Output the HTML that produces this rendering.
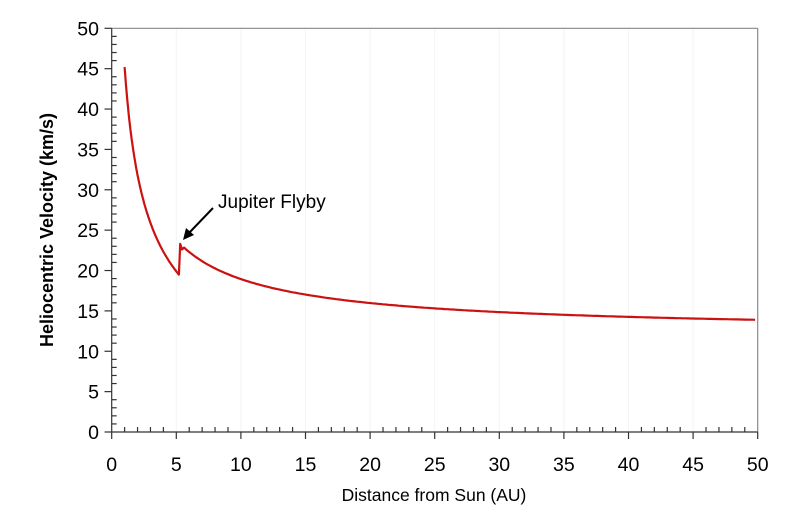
<!DOCTYPE html>
<html><head><style>body{margin:0;background:#fff}svg{display:block}</style></head><body>
<svg id="s" width="805" height="527" xmlns="http://www.w3.org/2000/svg" font-family="Liberation Sans, Arial, sans-serif">
<g id="grid" stroke="#f4f4f4" stroke-width="1"></g>
<line x1="111.7" y1="28.3" x2="757.7" y2="28.3" stroke="#888" stroke-width="1.2"/>
<line x1="757.7" y1="28.3" x2="757.7" y2="432" stroke="#888" stroke-width="1.2"/>
<g id="ax" stroke="#333" stroke-width="1.2"></g>
<g id="lab" font-size="19.5" fill="#000"></g>
<polyline id="c" fill="none" stroke="#cc1111" stroke-width="2.2" stroke-linejoin="round"/>
<text x="218" y="208" font-size="19">Jupiter Flyby</text>
<line x1="213" y1="208" x2="189" y2="233" stroke="#000" stroke-width="2"/>
<polygon points="183,240 186,228 194,235" fill="#000"/>
<text x="434" y="501" font-size="17.5" text-anchor="middle">Distance from Sun (AU)</text>
<text transform="translate(53,230) rotate(-90)" font-size="18" font-weight="bold" text-anchor="middle">Heliocentric Velocity (km/s)</text>
</svg>
<script>
const X=v=>111.7+v*12.92,Y=v=>432-v*8.074;
let ax='',lab='',gr='';
for(let i=0;i<=50;i++){
 if(i%5==0){ax+=`<line x1="${X(i)}" y1="432" x2="${X(i)}" y2="439"/><line x1="104.5" y1="${Y(i)}" x2="111.7" y2="${Y(i)}"/>`;
  lab+=`<text x="${X(i)}" y="471" text-anchor="middle">${i}</text><text x="99" y="${Y(i)+7}" text-anchor="end">${i}</text>`;
  if(i>0&&i<50)gr+=`<line x1="${X(i)}" y1="28.3" x2="${X(i)}" y2="432"/>`;}
 else ax+=`<line x1="${X(i)}" y1="432" x2="${X(i)}" y2="427"/><line x1="111.7" y1="${Y(i)}" x2="116.7" y2="${Y(i)}"/>`;
}
ax+=`<line x1="111.7" y1="28.3" x2="111.7" y2="432"/><line x1="111.7" y1="432" x2="757.7" y2="432"/>`;
document.getElementById('ax').innerHTML=ax;document.getElementById('lab').innerHTML=lab;document.getElementById('grid').innerHTML=gr;
let p=[];
for(let r=1;r<=5.2;r+=0.05)p.push([r,Math.sqrt(-16+2059/r)]);
p.push([5.2,19.5]);p.push([5.3,23.3]);p.push([5.45,22.6]);
for(let r=5.6;r<=50;r+=0.2)p.push([r,Math.sqrt(151.5+2073/r)]);
document.getElementById('c').setAttribute('points',p.map(q=>X(q[0]).toFixed(1)+','+Y(q[1]).toFixed(1)).join(' '));
</script>
</body></html>
